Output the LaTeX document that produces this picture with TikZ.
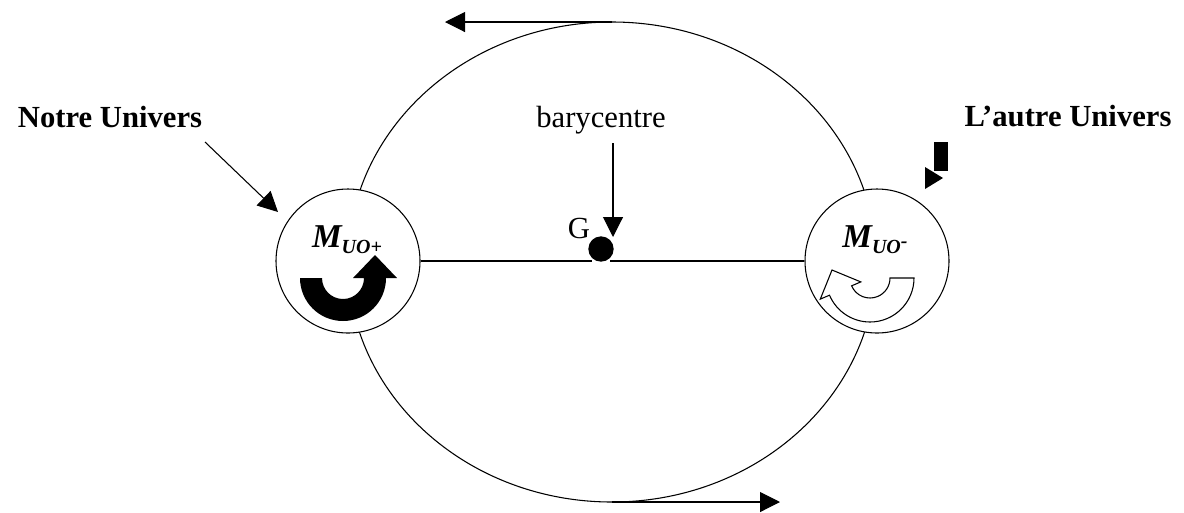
\documentclass[tikz,border=0pt]{standalone}
\usepackage{fontspec}
\setmainfont{Liberation Serif}
\usetikzlibrary{arrows.meta}
\tikzset{
  conn/.style={line width=0.8pt},
  tipped/.style={conn,-{Triangle[length=15pt,width=15pt]}},
  univ/.style={circle,draw,line width=0.8pt,fill=white,minimum size=108pt,inner sep=0pt},
  lbl/.style={inner sep=0pt,anchor=base,font=\fontsize{23}{26}\selectfont},
  blbl/.style={lbl,font=\fontsize{23}{26}\selectfont\bfseries},
}
\newcommand{\mlabel}[1]{{\fontsize{25}{28}\selectfont\bfseries\itshape M\raisebox{-4.5pt}{\fontsize{15}{17}\selectfont UO#1}}}
\begin{document}
\begin{tikzpicture}[x=0.75pt,y=0.75pt]
\useasboundingbox (0,0) rectangle (1184,-512);
% orbit
\draw[conn] (612,-262) ellipse [x radius=264, y radius=240];
% universes
\node[univ] (L) at (348,-261) {};
\node[univ] (R) at (877,-261) {};
\node[inner sep=0pt,anchor=base] (ML) at (347,-247) {\mlabel{+}};
\node[inner sep=0pt,anchor=base] (MR) at (875,-247) {\mlabel{\raisebox{4pt}{\textbf{-}}}};
% barycentre
\node[circle,fill=black,inner sep=0pt,minimum size=19pt] (G) at (601,-249) {};
\node[lbl] (Gl) at (579,-238) {G};
\draw[conn] (L.east) -- (G.south west |- L.east);
\draw[conn] (G.south east |- R.west) -- (R.west);
\node[lbl] (bary) at (601,-127) {barycentre};
\coordinate (btip) at (613,-237);
\coordinate (btop) at (613,-143);
\draw[tipped] (btop) -- (btip);
% labels
\node[blbl] (notre) at (110,-127) {Notre Univers};
\node[blbl] (autre) at (1068,-126) {L’autre Univers};
\coordinate (n0) at (205,-142);
\coordinate (n1) at (278,-212);
\draw[tipped] (n0) -- (n1);
% broken block arrow near L'autre Univers
\fill (934,-142) rectangle (948,-171);
\fill (925,-167) -- (925,-189) -- (943,-178) -- cycle;
% orbit direction arrows
\coordinate (t0) at (612,-22);
\coordinate (t1) at (445,-22);
\draw[tipped] (t0) -- (t1);
\coordinate (b0) at (612,-502);
\coordinate (b1) at (780,-502);
\draw[tipped] (b0) -- (b1);
% rotation arrow: our universe (black)
\begin{scope}[shift={(343,-278)}]
\fill (-43,0) arc[start angle=180,end angle=360,radius=43]
  -- (54,0) -- (32,23) -- (10,0) -- (21,0)
  arc[start angle=360,end angle=180,radius=21] -- cycle;
\end{scope}
% rotation arrow: other universe (white)
\begin{scope}[shift={(870,-278)}]
\draw[line width=0.8pt,fill=white,line join=miter] (44,0) arc[start angle=0,end angle=-157,radius=44]
  -- (-157:54) -- (-38,8) -- (-157:10) -- (-157:20)
  arc[start angle=-157,end angle=0,radius=20] -- cycle;
\end{scope}
\end{tikzpicture}
\end{document}
